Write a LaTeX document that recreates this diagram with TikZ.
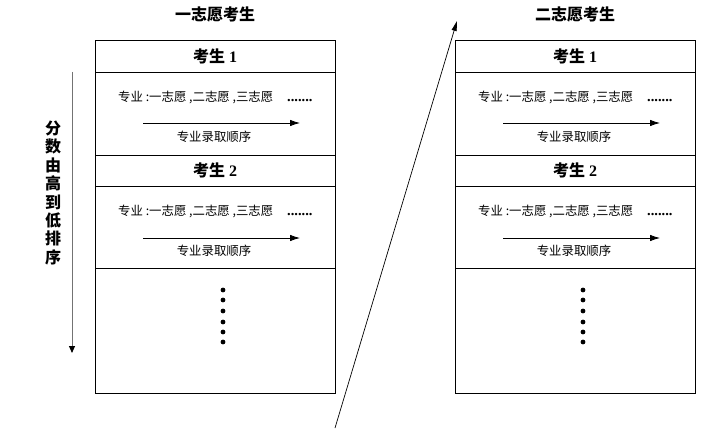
\documentclass[tikz,border=0pt]{standalone}
\usepackage{fontspec}
\setmainfont{Liberation Serif}
\newfontfamily\cjk{Noto Sans CJK SC}
\usetikzlibrary{arrows.meta}
\begin{document}
\begin{tikzpicture}[x=1pt,y=-1pt,
  every node/.style={inner sep=0pt},
  titletext/.style={font=\cjk\bfseries\fontsize{16}{16}\selectfont},
  headtext/.style={font=\bfseries\fontsize{16}{16}\selectfont},
  bodytext/.style={font=\cjk\fontsize{12.4}{12.4}\selectfont},
  dotstext/.style={font=\bfseries\fontsize{14.5}{14.5}\selectfont},
  boxline/.style={draw=black, line width=0.8pt},
  orderarrow/.style={draw=black, line width=0.8pt, -{Latex[length=10pt,width=6.5pt]}},
  sidetext/.style={font=\cjk\bfseries\fontsize{16}{18.4}\selectfont, align=center},
  dotmark/.style={circle, fill=black, minimum size=4.8pt}]
\useasboundingbox (0,0) rectangle (725,433);
\fill[white] (0,0) rectangle (725,433);
\foreach \o/\t/\s in {0/一志愿考生/L, 360/二志愿考生/R} {
  \node[titletext] (t\s) at (215+\o,15) {\t};
  \draw[boxline] (95+\o,40) rectangle (335+\o,393);
  \draw[boxline] (95+\o,72) -- (335+\o,72);
  \draw[boxline] (95+\o,155) -- (335+\o,155);
  \draw[boxline] (95+\o,186) -- (335+\o,186);
  \draw[boxline] (95+\o,268) -- (335+\o,268);
  \foreach \r/\hy/\by/\ay/\ly in {1/56/97/123/137, 2/170/211/238/251} {
    \node[headtext] (h\s\r) at (215+\o,\hy) {{\cjk 考生} \r};
    \node[bodytext, anchor=west] (b\s\r) at (118+\o,\by) {专业 :一志愿 ,二志愿 ,三志愿};
    \node[dotstext, anchor=base west] (e\s\r) at (287+\o,\by+4.5) {.......};
    \coordinate (as\s\r) at (143+\o,\ay);
    \coordinate (ae\s\r) at (300+\o,\ay);
    \draw[orderarrow] (as\s\r) -- (ae\s\r);
    \node[bodytext] (l\s\r) at (214+\o,\ly) {专业录取顺序};
  }
  \foreach \k/\dy in {1/290, 2/300, 3/311, 4/322, 5/332, 6/342} {
    \node[dotmark] (d\s\k) at (223+\o,\dy) {};
  }
}
\node[sidetext] (side) at (53,193) {分\\数\\由\\高\\到\\低\\排\\序};
\coordinate (v0) at (72,72);
\coordinate (v1) at (72,353);
\draw[draw=black!55, line width=1pt, -{Triangle[length=7pt,width=6pt,fill=black,color=black]}] (v0) -- (v1);
\coordinate (g0) at (335,428);
\coordinate (g1) at (457,21);
\draw[line width=0.7pt, -{Triangle[length=10pt,width=5pt]}] (g0) -- (g1);
\end{tikzpicture}
\end{document}
